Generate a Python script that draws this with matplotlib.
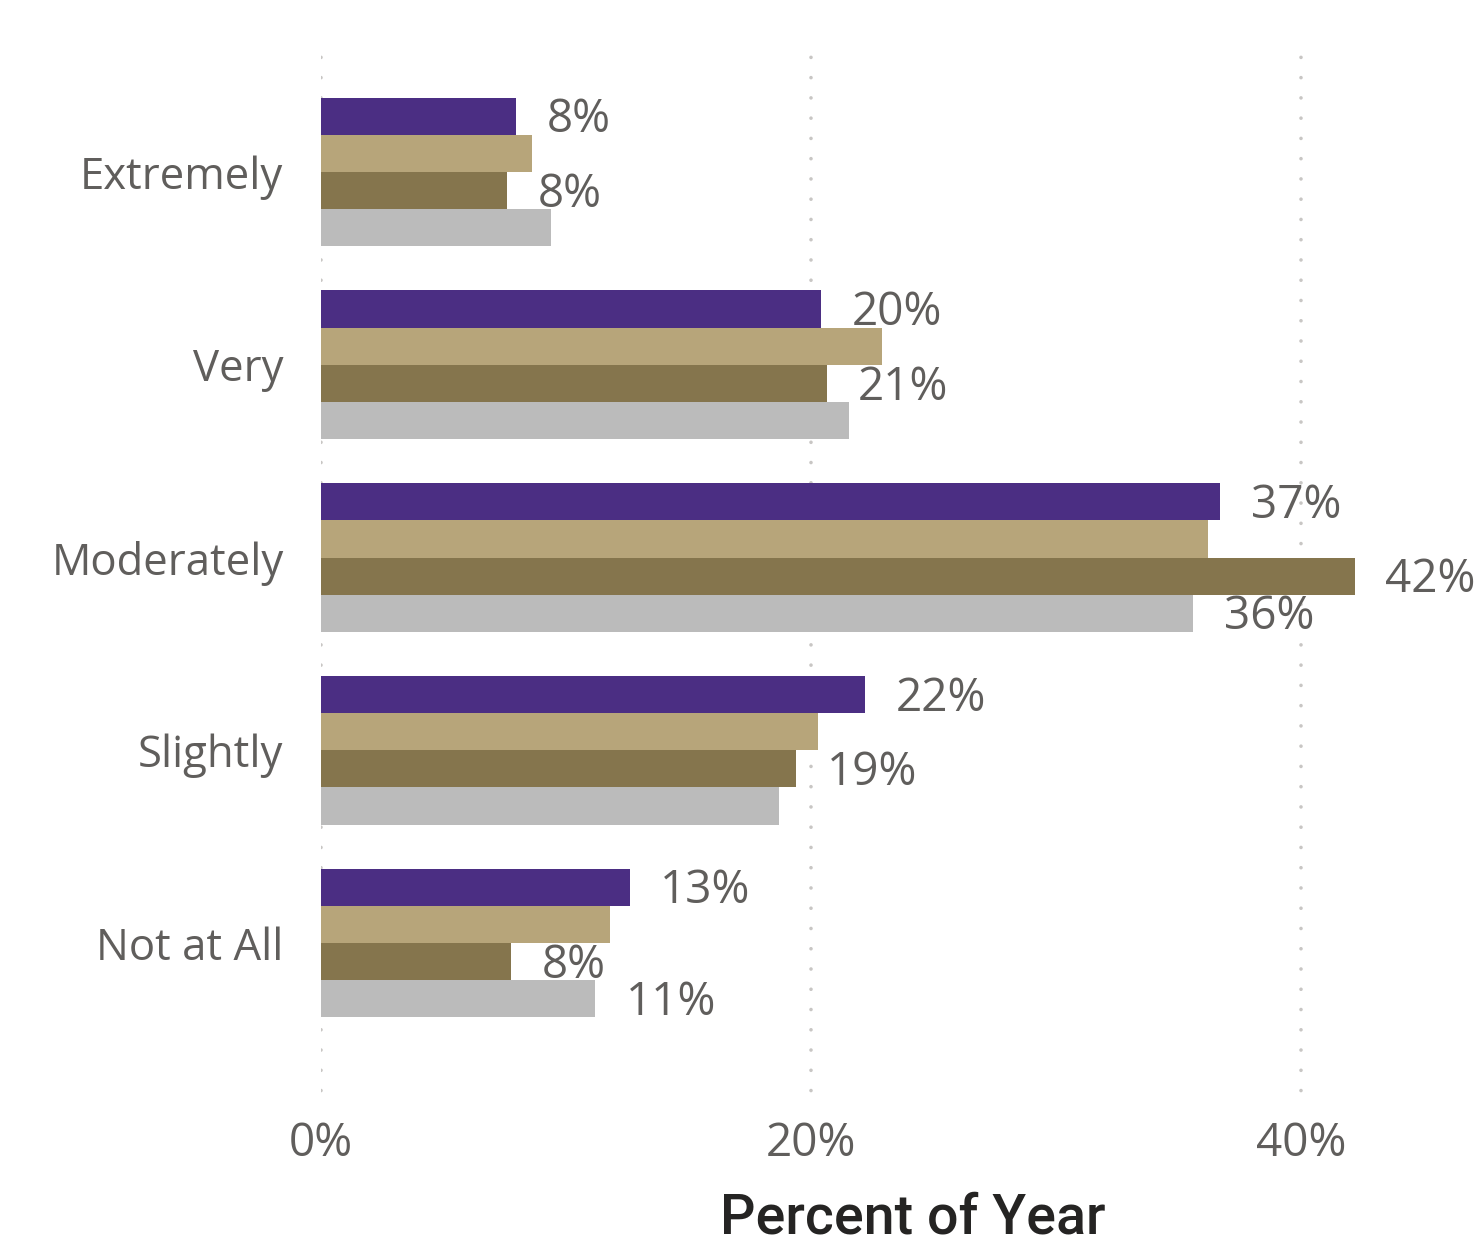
import matplotlib
matplotlib.use("Agg")
import matplotlib.pyplot as plt
import numpy as np

categories = ["Extremely", "Very", "Moderately", "Slightly", "Not at All"]
series_names = ["Series A", "Series B", "Series C", "Series D"]
series_values = [
    [7.96, 20.4, 36.7, 22.2, 12.6],   # purple
    [8.6, 22.9, 36.2, 20.3, 11.8],    # gold
    [7.6, 20.65, 42.2, 19.4, 7.76],   # dark gold
    [9.4, 21.55, 35.6, 18.7, 11.2],   # gray
]
label_shown = [
    [True, True, True, True, True],
    [False, False, False, False, False],
    [True, True, True, True, True],
    [False, False, True, False, True],
]
xticks = [0, 20, 40]
xtick_labels = ["0%", "20%", "40%"]
x_title = "Percent of Year"

colors = ["#4B2E83", "#B7A57A", "#85754D", "#BBBBBB"]
text_col = "#605E5C"

W, H = 1482, 1246
fig = plt.figure(figsize=(W / 100, H / 100), dpi=100)
left_px, right_px, top_px, bot_px = 321, 1470, 38, 1100
ax = fig.add_axes([left_px / W, (H - bot_px) / H, (right_px - left_px) / W, (bot_px - top_px) / H])

px_per_unit = 24.5
ax.set_xlim(0, (right_px - left_px) / px_per_unit)
spacing = 192.75
ax.set_ylim(4 + (bot_px - 943) / spacing, -(172 - top_px) / spacing)

bh = 37.2 / spacing
y = np.arange(len(categories))
for i, (vals, c) in enumerate(zip(series_values, colors)):
    yy = y + (i - 1.5) * bh
    ax.barh(yy, vals, height=bh, color=c, zorder=2, linewidth=0)
    for yv, v, show in zip(yy, vals, label_shown[i]):
        if show:
            ax.annotate(f"{round(v)}%", (v, yv), xytext=(22, -3), textcoords="offset points",
                        ha="left", va="center", fontsize=33, color=text_col,
                        family="Open Sans", zorder=4)

for xv in xticks:
    ax.axvline(xv, color="#C8C6C4", linewidth=2.6, linestyle=(3, (0.01, 5.6)),
               dash_capstyle="round", zorder=1)

for s in ax.spines.values():
    s.set_visible(False)
ax.set_xticks(xticks)
ax.set_xticklabels(xtick_labels, fontsize=33, color=text_col, family="Open Sans")
ax.set_yticks(y)
ax.set_yticklabels(categories, fontsize=31.5, color=text_col, family="Open Sans")
ax.tick_params(axis="both", length=0)
ax.tick_params(axis="y", pad=27)
ax.tick_params(axis="x", pad=15)

fig.text(913 / W, (H - 1218) / H, x_title, ha="center", va="center",
         fontsize=40, color="#252423", family="Roboto", fontweight="medium")

fig.savefig("out.png", dpi=100)
